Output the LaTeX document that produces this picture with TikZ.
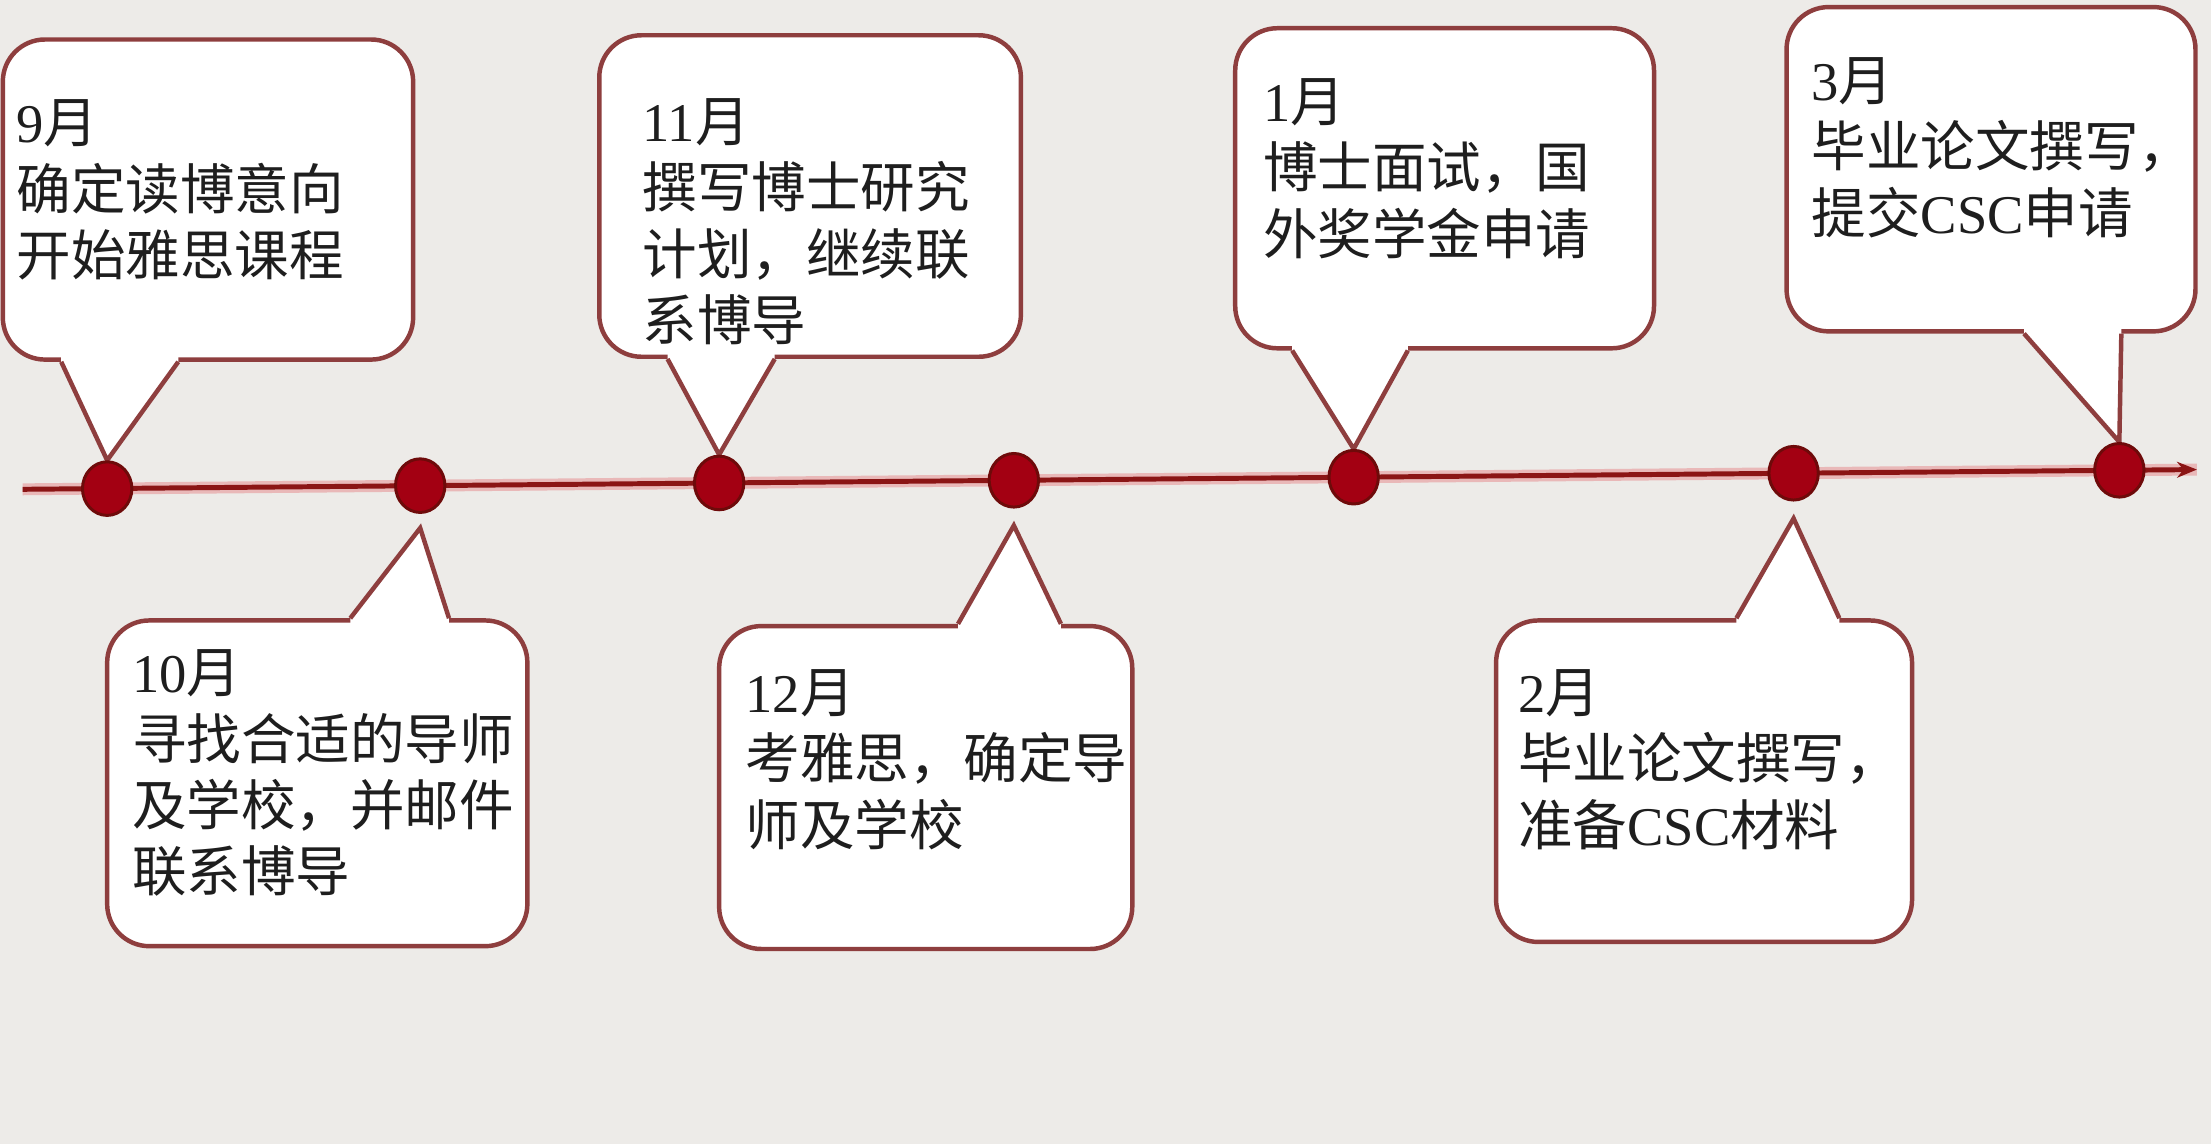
\documentclass[tikz,border=0pt]{standalone}
\usepackage{fontspec}
\setmainfont{Liberation Serif}
\newfontfamily\cjk{Noto Sans CJK SC}
\usetikzlibrary{arrows.meta,calc,fit,shapes.geometric}
\definecolor{bgcol}{HTML}{EDEBE8}
\definecolor{bcol}{HTML}{8E3E3E}
\definecolor{linecol}{HTML}{8B1515}
\definecolor{glowcol}{HTML}{E9B8B8}
\definecolor{dotfill}{HTML}{A30012}
\definecolor{dotdraw}{HTML}{6E0A0A}
\definecolor{textcol}{HTML}{1E1E1E}
\newcommand\latn[1]{{\rmfamily #1}}
\newcommand\drawtail[5]{%
  \fill[white] ($(#1)+(#2,#5)$) -- ($(#1)+(#2,0)$) -- (#4) -- ($(#1)+(#3,0)$) -- ($(#1)+(#3,#5)$) -- cycle;
  \draw[tailline] ($(#1)+(#2,0)$) -- (#4) -- ($(#1)+(#3,0)$);
}
\begin{document}
\begin{tikzpicture}[x=0.01cm,y=-0.01cm,
  bubble/.style={draw=bcol, fill=white, line width=0.9pt, rounded corners=8.5pt, inner sep=0pt},
  tailline/.style={draw=bcol, line width=0.9pt, line join=miter},
  txt/.style={anchor=north west, inner sep=0pt, align=left, text=textcol,
    font=\cjk\fontsize{11}{13.4}\selectfont},
  dot/.style={ellipse, fill=dotfill, draw=dotdraw, line width=0.6pt,
    minimum width=0.35cm, minimum height=0.38cm, inner sep=0pt}]
\useasboundingbox (0,0) rectangle (1568,811);
\fill[bgcol] (0,0) rectangle (1568,811);

% timeline
\coordinate (ls) at (16,347);
\coordinate (le) at (1558,333);
\draw[glowcol, line width=2.4pt] (ls) -- (le);
\draw[linecol, line width=1pt, -{Stealth[length=4pt,width=3.2pt]}] (ls) -- (le);

% dot positions
\coordinate (c1) at (76,346.5);
\coordinate (c2) at (298,344.4);
\coordinate (c3) at (510,342.5);
\coordinate (c4) at (719,340.6);
\coordinate (c5) at (960,338.4);
\coordinate (c6) at (1272,335.6);
\coordinate (c7) at (1503,333.5);
\path node[dot, draw=none, fill=none] (d1) at (c1) {}
      node[dot, draw=none, fill=none] (d2) at (c2) {}
      node[dot, draw=none, fill=none] (d3) at (c3) {}
      node[dot, draw=none, fill=none] (d4) at (c4) {}
      node[dot, draw=none, fill=none] (d5) at (c5) {}
      node[dot, draw=none, fill=none] (d6) at (c6) {}
      node[dot, draw=none, fill=none] (d7) at (c7) {};
\coordinate (p2) at ($(d2.south)+(0,10)$);
\coordinate (p4) at ($(d4.south)+(0,12)$);
\coordinate (p6) at ($(d6.south)+(0,12)$);

% top bubbles
\node[bubble, fit={(2,28) (293,255)}] (b9) {};
\node[bubble, fit={(425,25) (724,253)}] (b11) {};
\node[bubble, fit={(876,20) (1173,247)}] (b1) {};
\node[bubble, fit={(1267,5) (1557,235)}] (b3) {};
% bottom bubbles
\node[bubble, fit={(76,440) (374,671)}] (b10) {};
\node[bubble, fit={(510,444) (803,673)}] (b12) {};
\node[bubble, fit={(1061,440) (1356,668)}] (b2) {};

% tails
\drawtail{b9.south west}{43}{126}{d1.north}{-4}
\drawtail{b11.south west}{50}{126}{d3.north}{-4}
\drawtail{b1.south west}{42}{124}{d5.north}{-4}
\drawtail{b3.south west}{170}{239}{d7.north}{-4}
\drawtail{b10.north west}{174}{244}{p2}{4}
\drawtail{b12.north west}{171}{244}{p4}{4}
\drawtail{b2.north west}{172}{245}{p6}{4}

% dots on top
\foreach \i in {1,...,7} \node[dot] at (c\i) {};

% texts
\node[txt] (t9) at (11,70) {\latn{9}月\\确定读博意向\\开始雅思课程};
\node[txt] (t11) at (455,69) {\latn{11}月\\撰写博士研究\\计划，继续联\\系博导};
\node[txt] (t1) at (895,55) {\latn{1}月\\博士面试，国\\外奖学金申请};
\node[txt] (t3) at (1284,40) {\latn{3}月\\毕业论文撰写，\\提交\latn{CSC}申请};
\node[txt] (t10) at (93,460) {\latn{10}月\\寻找合适的导师\\及学校，并邮件\\联系博导};
\node[txt] (t12) at (528,474) {\latn{12}月\\考雅思，确定导\\师及学校};
\node[txt] (t2) at (1076,474) {\latn{2}月\\毕业论文撰写，\\准备\latn{CSC}材料};
\end{tikzpicture}
\end{document}
